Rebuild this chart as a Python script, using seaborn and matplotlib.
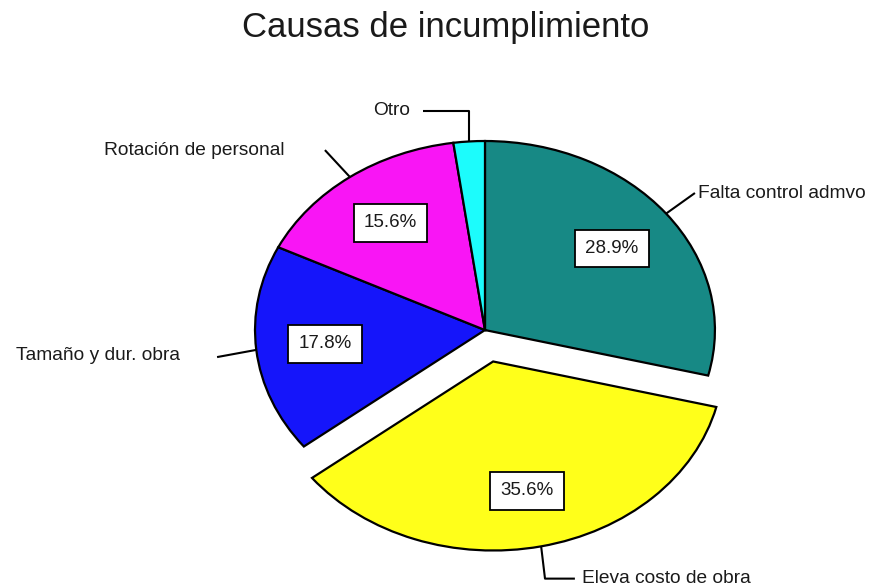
import numpy as np
import matplotlib.pyplot as plt
import seaborn as sns

# datos
categorias = ['Falta control admvo', 'Eleva costo de obra', 'Tamaño y dur. obra',
              'Rotación de personal', 'Otro']
porcentajes = [28.9, 35.6, 17.8, 15.6, 2.2]
colores = ['#178985', '#FFFF1A', '#1515FA', '#F915F5', '#1CFCFC']
separacion = [0, 0.17, 0, 0, 0]

sns.set_style('white')
plt.rcParams['font.family'] = ['Liberation Sans', 'DejaVu Sans']

fig = plt.figure(figsize=(8.72, 5.86), dpi=100)
ax = fig.add_axes([0, 0, 1, 1])

wedges, textos, pcts = ax.pie(
    porcentajes, colors=colores, explode=separacion, startangle=90,
    counterclock=False, pctdistance=0.7,
    autopct=lambda p: f'{p:.1f}%' if p > 3 else '',
    wedgeprops=dict(edgecolor='black', linewidth=1.6),
    textprops=dict(fontsize=13.5, color='#1a1a1a'))

for t in pcts:
    if t.get_text():
        t.set_bbox(dict(boxstyle='square,pad=0.55', fc='white', ec='black', lw=1.3))

# pie eliptico como en el original
ax.set_aspect('auto')
ax.set_xlim(-2.109, 1.683)
ax.set_ylim(-1.354, 1.746)
ax.axis('off')

# guias de etiquetas: (codos, posicion del texto, alineacion)
guias = {
    'Falta control admvo': ([(0.913, 0.725)], (0.926, 0.725), 'left'),
    'Eleva costo de obra': ([(0.261, -1.315), (0.391, -1.315)], (0.42, -1.315), 'left'),
    'Tamaño y dur. obra': ([(-1.165, -0.143)], (-1.326, -0.135), 'right'),
    'Rotación de personal': ([(-0.696, 0.952)], (-0.87, 0.952), 'right'),
    'Otro': ([(None, 1.159), (-0.27, 1.159)], (-0.326, 1.16), 'right'),
}

for w, nombre in zip(wedges, categorias):
    medio = np.deg2rad((w.theta1 + w.theta2) / 2)
    cx, cy = w.center
    ax0 = cx + w.r * np.cos(medio)
    ay0 = cy + w.r * np.sin(medio)
    codos, pos, ha = guias[nombre]
    xs, ys = [ax0], [ay0]
    for x, y in codos:
        xs.append(ax0 if x is None else x)
        ys.append(y)
    ax.plot(xs, ys, color='black', lw=1.5, solid_capstyle='butt')
    ax.text(pos[0], pos[1], nombre, ha=ha, va='center', fontsize=13.8, color='#1a1a1a')

fig.text(0.5115, 0.937, 'Causas de incumplimiento', ha='center', va='baseline',
         fontsize=25, color='#1a1a1a')

plt.savefig('out.png', dpi=100)
